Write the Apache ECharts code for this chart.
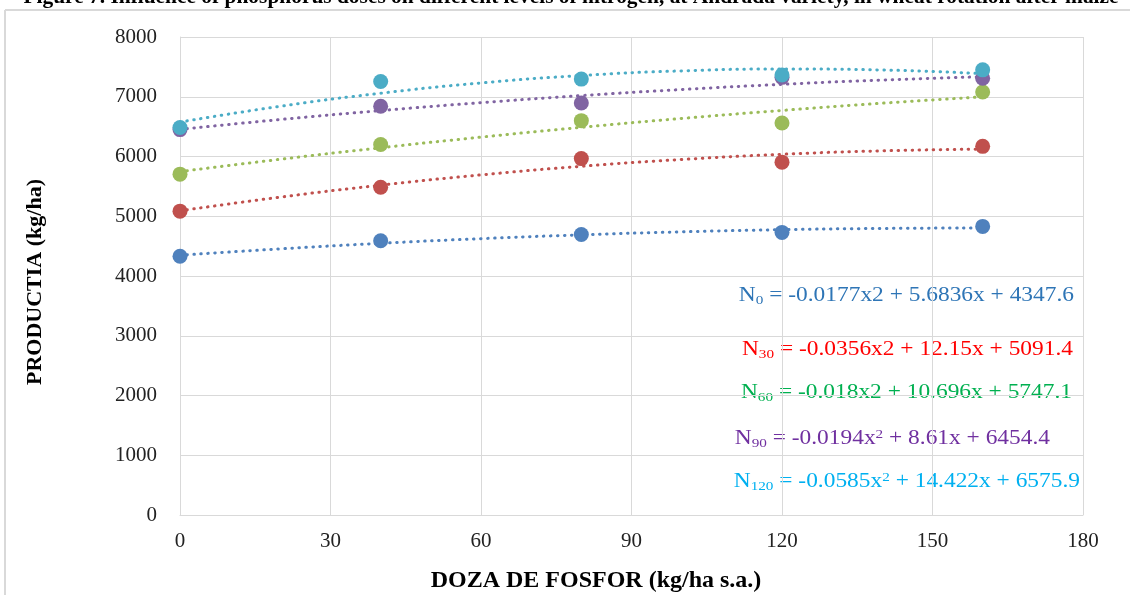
<!DOCTYPE html>
<html>
<head>
<meta charset="utf-8">
<script src="https://cdn.jsdelivr.net/npm/echarts@6/dist/echarts.min.js"></script>
<style>html,body{margin:0;padding:0;background:#fff}#c{width:1130px;height:595px}</style>
</head>
<body>
<div id="c"></div>
<script>
// ---- data ----
const doses = [0, 40, 80, 120, 160];
const seriesNames = ['N0', 'N30', 'N60', 'N90', 'N120'];
const yieldN0   = [4330, 4590, 4695, 4730, 4830];
const yieldN30  = [5085, 5485, 5965, 5905, 6170];
const yieldN60  = [5705, 6200, 6600, 6560, 7080];
const yieldN90  = [6450, 6840, 6895, 7325, 7310];
const yieldN120 = [6485, 7255, 7295, 7365, 7450];
// trendline values (x = 0,20,...,160)
const trendX = [0, 20, 40, 60, 80, 100, 120, 140, 160];
const trendN0   = [4348, 4454, 4547, 4625, 4689, 4739, 4775, 4796, 4804];
const trendN30  = [5091, 5320, 5520, 5692, 5836, 5950, 6037, 6095, 6124];
const trendN60  = [5747, 5954, 6146, 6324, 6488, 6637, 6771, 6892, 6998];
const trendN90  = [6454, 6619, 6768, 6901, 7019, 7121, 7208, 7280, 7335];
const trendN120 = [6576, 6841, 7059, 7231, 7355, 7433, 7464, 7448, 7386];
const xTicks = [0, 30, 60, 90, 120, 150, 180];
const yTicks = [0, 1000, 2000, 3000, 4000, 5000, 6000, 7000, 8000];
const equations = [
  {sub: '0',   body: ' = -0.0177x2 + 5.6836x + 4347.6', sq: false},
  {sub: '30',  body: ' = -0.0356x2 + 12.15x + 5091.4', sq: false},
  {sub: '60',  body: ' = -0.018x2 + 10.696x + 5747.1', sq: false},
  {sub: '90',  body: ' = -0.0194x', tail: ' + 8.61x + 6454.4', sq: true},
  {sub: '120', body: ' = -0.0585x', tail: ' + 14.422x + 6575.9', sq: true}
];
const titleText = 'Figure 7. Influence of phosphorus doses on different levels of nitrogen, at Andrada variety, in wheat rotation after maize';
const xName = 'DOZA DE FOSFOR (kg/ha s.a.)';
const yName = 'PRODUCTIA (kg/ha)';

// ---- styles ----
const markerColors = ['#4F81BD', '#C0504D', '#9BBB59', '#8064A2', '#4BACC6'];
const eqColors = ['#2E75B6', '#FF0000', '#00B050', '#7030A0', '#00B0F0'];
const eqPos = [[1074, 296], [1073, 350], [1072, 393], [1050, 439], [1080, 482]];
const FONT = '"Liberation Serif", "Times New Roman", serif';
const gridColor = '#D9D9D9';

const yields = [yieldN0, yieldN30, yieldN60, yieldN90, yieldN120];
const trends = [trendN0, trendN30, trendN60, trendN90, trendN120];

const series = [];
trends.forEach((t, i) => {
  series.push({
    type: 'line', name: seriesNames[i] + ' trend', smooth: true, showSymbol: false, silent: true,
    z: 2,
    data: trendX.map((x, k) => [x, t[k]]),
    lineStyle: {color: markerColors[i], width: 3, type: [0.5, 6.5], cap: 'round'}
  });
});
yields.forEach((y, i) => {
  series.push({
    type: 'scatter', name: seriesNames[i], symbol: 'circle', symbolSize: 15, z: 3 + i,
    data: doses.map((x, k) => [x, y[k]]),
    itemStyle: {color: markerColors[i], opacity: 1}
  });
});

const graphics = [
  {type: 'line', shape: {x1: 5, y1: 10, x2: 1130, y2: 10}, style: {stroke: gridColor, lineWidth: 2}, silent: true},
  {type: 'line', shape: {x1: 5, y1: 10, x2: 5, y2: 595}, style: {stroke: gridColor, lineWidth: 2}, silent: true},
  {type: 'text', x: 571, y: 8, scaleX: 1.07, style: {text: titleText, font: 'bold 20px ' + FONT, fill: '#000', textAlign: 'center', textVerticalAlign: 'bottom'}, silent: true},
  {type: 'text', x: 596, y: 581, style: {text: xName, font: 'bold 24px ' + FONT, fill: '#000', textAlign: 'center', textVerticalAlign: 'middle'}, silent: true},
  {type: 'text', x: 35, y: 282, rotation: Math.PI / 2, style: {text: yName, font: 'bold 22px ' + FONT, fill: '#000', textAlign: 'center', textVerticalAlign: 'middle'}, silent: true}
];
equations.forEach((e, i) => {
  let txt = '{n|N}{s|' + e.sub + '}{n|' + e.body + '}';
  if (e.sq) txt += '{p|2}{n|' + e.tail + '}';
  graphics.push({
    type: 'text', x: eqPos[i][0], y: eqPos[i][1], scaleX: 1.17, silent: true,
    style: {
      text: txt, fill: eqColors[i], textAlign: 'right', textVerticalAlign: 'middle',
      rich: {
        n: {fontFamily: FONT, fontSize: 20, color: eqColors[i], lineHeight: 24},
        s: {fontFamily: FONT, fontSize: 13, color: eqColors[i], padding: [10, 0, 0, 0], lineHeight: 24},
        p: {fontFamily: FONT, fontSize: 13, color: eqColors[i], padding: [0, 0, 9, 0], lineHeight: 24}
      }
    }
  });
});

const chart = echarts.init(document.getElementById('c'), null, {renderer: 'canvas'});
chart.setOption({
  backgroundColor: '#fff',
  animation: false,
  grid: {left: 180, right: 47, top: 37, bottom: 80},
  xAxis: {
    type: 'value', min: xTicks[0], max: xTicks[xTicks.length - 1], interval: xTicks[1] - xTicks[0],
    axisLine: {show: true, lineStyle: {color: gridColor, width: 1}},
    axisTick: {show: false},
    splitLine: {show: true, lineStyle: {color: gridColor, width: 1}},
    axisLabel: {fontFamily: FONT, fontSize: 21, color: '#222', margin: 16, formatter: v => String(v)}
  },
  yAxis: {
    type: 'value', min: yTicks[0], max: yTicks[yTicks.length - 1], interval: yTicks[1] - yTicks[0],
    axisLine: {show: true, lineStyle: {color: gridColor, width: 1}},
    axisTick: {show: false},
    splitLine: {show: true, lineStyle: {color: gridColor, width: 1}},
    axisLabel: {fontFamily: FONT, fontSize: 21, color: '#222', margin: 23, formatter: v => String(v)}
  },
  series: series,
  graphic: graphics
});
</script>
</body>
</html>
